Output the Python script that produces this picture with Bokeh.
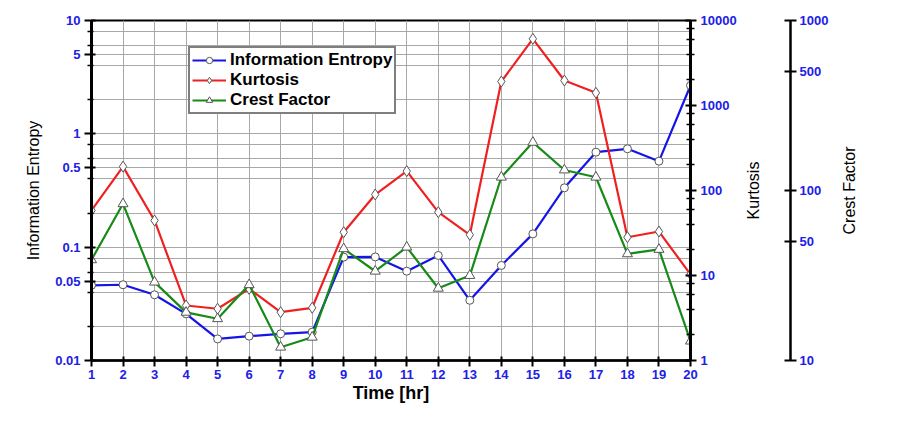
from bokeh.plotting import figure
from bokeh.layouts import row
from bokeh.models import (Range1d, LogScale, LogAxis, LinearAxis, FixedTicker,
                          CustomJSTickFormatter, Legend, LegendItem)
from bokeh.embed import file_html
from bokeh.resources import INLINE

hours = list(range(1, 21))
info_entropy = [0.046, 0.0466, 0.038, 0.0258, 0.0155, 0.0164, 0.0172, 0.0178, 0.0817, 0.082,
                0.0614, 0.0845, 0.034, 0.069, 0.131, 0.334, 0.689, 0.738, 0.574, 2.67]
kurtosis = [58.2, 191, 44.4, 4.44, 4.06, 6.97, 3.7, 4.17, 32.3, 89.7,
            169, 55.6, 30.1, 1915, 6085, 1968, 1410, 28.2, 32.9, 10.3]
crest_factor = [39.1, 83.5, 28.9, 19.2, 17.6, 27.9, 11.97, 13.7, 45.4, 33.5,
                46.4, 26.6, 31.6, 119.7, 192, 132, 119.7, 42.4, 45.0, 13.0]

left_major = [0.01, 0.05, 0.1, 0.5, 1, 5, 10]
left_minor = [0.02, 0.04, 0.06, 0.08, 0.2, 0.4, 0.6, 0.8, 2, 4, 6, 8]
kurt_major = [1, 10, 100, 1000, 10000]
kurt_minor = [2, 4, 6, 8, 20, 40, 60, 80, 200, 400, 600, 800, 2000, 4000, 6000, 8000]
crest_major = [10, 50, 100, 500, 1000]

TICK_BLUE = "#2020e6"
FONT = "Liberation Sans"
H, TOP, BOTTOM = 422, 20, 62

fmt = CustomJSTickFormatter(code="return String(tick);")

def style_axis(ax):
    ax.major_label_text_color = TICK_BLUE
    ax.major_label_text_font = FONT
    ax.major_label_text_font_style = "bold"
    ax.major_label_text_font_size = "13px"
    ax.axis_line_color = "black"
    ax.major_tick_line_color = "black"
    ax.minor_tick_line_color = "black"
    ax.major_tick_line_width = 2
    ax.minor_tick_line_width = 1.5
    ax.axis_label_text_font = FONT
    ax.axis_label_text_color = "black"
    ax.axis_label_text_font_style = "normal"

def blank(fig):
    fig.background_fill_color = "white"
    fig.border_fill_color = "white"
    fig.outline_line_color = None

def title_axis(text, standoff):
    ax = LinearAxis(ticker=FixedTicker(ticks=[]), axis_label=text)
    ax.axis_line_color = None
    ax.major_tick_line_color = None
    ax.minor_tick_line_color = None
    ax.major_tick_out = 0
    ax.major_tick_in = 0
    ax.major_label_standoff = 0
    ax.axis_label_text_font = FONT
    ax.axis_label_text_font_size = "16px"
    ax.axis_label_text_font_style = "normal"
    ax.axis_label_text_color = "black"
    ax.axis_label_standoff = standoff
    return ax

# ---------------- main chart ----------------
fig = figure(width=740, height=H, output_backend="svg", toolbar_location=None,
             x_range=Range1d(1, 20), y_range=Range1d(0.01, 10), y_axis_type="log",
             min_border_left=91, min_border_right=50, min_border_top=TOP, min_border_bottom=BOTTOM)
fig.extra_y_ranges = {"kurt": Range1d(1, 10000), "crest": Range1d(10, 1000)}
fig.extra_y_scales = {"kurt": LogScale(), "crest": LogScale()}
fig.background_fill_color = "white"
fig.border_fill_color = "white"
fig.outline_line_color = "black"
fig.outline_line_width = 2

ly = fig.yaxis[0]
ly.ticker = FixedTicker(ticks=left_major, minor_ticks=left_minor)
ly.formatter = fmt
style_axis(ly)
ly.axis_line_width = 3
ly.major_tick_out = 7
ly.major_tick_in = 4
ly.minor_tick_out = 4
ly.minor_tick_in = 2
ly.major_label_standoff = 4
ly.axis_label = "Information Entropy"
ly.axis_label_text_font_size = "16px"
ly.axis_label_standoff = 10

bx = fig.xaxis[0]
bx.ticker = FixedTicker(ticks=hours)
style_axis(bx)
bx.axis_line_width = 2.5
bx.major_tick_out = 6
bx.major_tick_in = 4
bx.minor_tick_line_color = None
bx.major_label_standoff = 3
bx.axis_label = "Time [hr]"
bx.axis_label_text_font_size = "18px"
bx.axis_label_text_font_style = "bold"
bx.axis_label_standoff = 1

fig.xgrid.grid_line_color = "#a8a8a8"
fig.ygrid.grid_line_color = "#a8a8a8"
fig.ygrid.minor_grid_line_color = "#a8a8a8"

kax = LogAxis(y_range_name="kurt", ticker=FixedTicker(ticks=kurt_major, minor_ticks=kurt_minor),
              formatter=fmt)
style_axis(kax)
kax.axis_line_width = 3
kax.major_tick_out = 6
kax.major_tick_in = 5
kax.minor_tick_out = 4
kax.minor_tick_in = 4
kax.major_label_standoff = 4
fig.add_layout(kax, "right")

l1 = fig.line(hours, info_entropy, line_color="#1515e8", line_width=2.2)
m1 = fig.scatter(hours, info_entropy, marker="circle", size=8, fill_color="white",
                 line_color="#555555", line_width=1)
l2 = fig.line(hours, kurtosis, line_color="#f02020", line_width=2.2, y_range_name="kurt")
m2 = fig.scatter(hours, kurtosis, marker="diamond", size=11, fill_color="white",
                 line_color="#555555", line_width=1, y_range_name="kurt")
l3 = fig.line(hours, crest_factor, line_color="#178a17", line_width=2.2, y_range_name="crest")
m3 = fig.scatter(hours, crest_factor, marker="triangle", size=10, fill_color="white",
                 line_color="#555555", line_width=1, y_range_name="crest")

legend = Legend(items=[
    LegendItem(label="Information Entropy", renderers=[l1, m1]),
    LegendItem(label="Kurtosis", renderers=[l2, m2]),
    LegendItem(label="Crest Factor", renderers=[l3, m3]),
], location=(97, 246))
legend.label_text_font = FONT
legend.label_text_font_style = "bold"
legend.label_text_font_size = "17px"
legend.label_text_color = "black"
legend.label_height = 16
legend.glyph_height = 16
legend.glyph_width = 34
legend.label_standoff = 4
legend.spacing = -4
legend.padding = 2
legend.margin = 0
legend.border_line_color = "black"
legend.border_line_width = 2
legend.background_fill_alpha = 1
fig.add_layout(legend, "center")

# ---------------- Kurtosis title + Crest Factor axis ----------------
q = figure(width=94, height=H, output_backend="svg", toolbar_location=None,
           x_range=Range1d(0, 1), y_range=Range1d(10, 1000), y_axis_type="log",
           x_axis_location=None, y_axis_location=None,
           min_border_left=45, min_border_right=44, min_border_top=TOP, min_border_bottom=BOTTOM)
blank(q)
q.grid.visible = False
q.add_layout(title_axis("Kurtosis", 24), "left")
cax = LogAxis(ticker=FixedTicker(ticks=crest_major, minor_ticks=[]), formatter=fmt)
style_axis(cax)
cax.axis_line_width = 2.5
cax.major_tick_out = 6
cax.major_tick_in = 6
cax.minor_tick_line_color = None
cax.major_label_standoff = 3
q.add_layout(cax, "right")

# ---------------- Crest Factor title ----------------
r = figure(width=65, height=H, output_backend="svg", toolbar_location=None,
           x_range=Range1d(0, 1), y_range=Range1d(0, 1),
           x_axis_location=None, y_axis_location=None,
           min_border_left=36, min_border_right=0, min_border_top=TOP, min_border_bottom=BOTTOM)
blank(r)
r.grid.visible = False
r.add_layout(title_axis("Crest Factor", 13), "left")

p = row(fig, q, r, spacing=0)
open("out.html", "w").write(file_html(p, INLINE))
